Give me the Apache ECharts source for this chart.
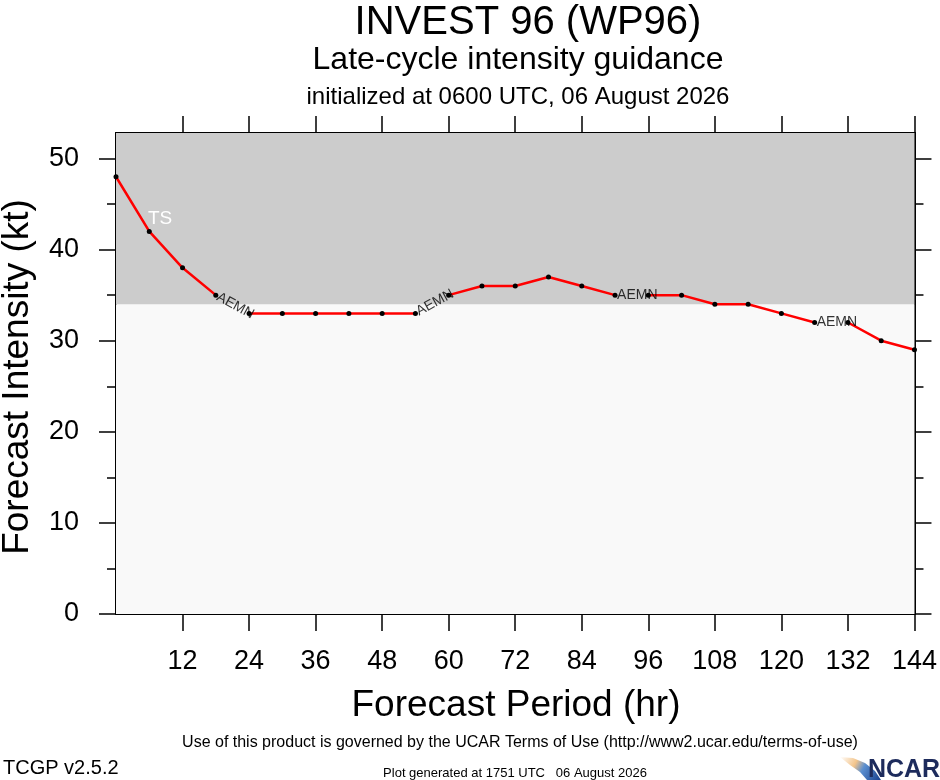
<!DOCTYPE html>
<html>
<head>
<meta charset="utf-8">
<style>
  html, body { margin: 0; padding: 0; background: #fff; }
  #chart { width: 940px; height: 780px; }
</style>
</head>
<body>
<div id="chart"></div>
<script src="https://cdn.jsdelivr.net/npm/echarts@6.0.0/dist/echarts.min.js"></script>
<script>
// forecast hours and AEMN intensity (kt)
var forecastHours = [0, 6, 12, 18, 24, 30, 36, 42, 48, 54, 60, 66, 72, 78, 84, 90, 96, 102, 108, 114, 120, 126, 132, 138, 144];
var aemnIntensity = [48, 42, 38, 35, 33, 33, 33, 33, 33, 33, 35, 36, 36, 37, 36, 35, 35, 35, 34, 34, 33, 32, 32, 30, 29];
var modelName = 'AEMN';
// hours where the model name is written on the line
var labelHours = [18, 54, 90, 126];

var xTicks = [12, 24, 36, 48, 60, 72, 84, 96, 108, 120, 132, 144];
var yMajor = [0, 10, 20, 30, 40, 50];
var yMinor = [5, 15, 25, 35, 45];
var yMax = 52.8;
var tsThreshold = 34;
var bandLabel = 'TS';

var FONT = "'Liberation Sans', Arial, Helvetica, sans-serif";

var chart = echarts.init(document.getElementById('chart'));

// line with breaks where the model name sits
var lineData = [];
forecastHours.forEach(function (h, i) {
    lineData.push([h, aemnIntensity[i]]);
    if (labelHours.indexOf(h) >= 0) lineData.push([h, null]);
});

function xAxisCfg(pos, showLabel) {
    return {
        type: 'value', position: pos, min: 0, max: 144, interval: 12,
        axisLine: { show: true, onZero: false, lineStyle: { color: '#000', width: 2 } },
        axisTick: { show: true, inside: false, length: 17, customValues: xTicks, lineStyle: { color: '#000', width: 1.5 } },
        axisLabel: { show: showLabel, customValues: xTicks, margin: 34, color: '#000', fontSize: 27, fontFamily: FONT },
        splitLine: { show: false }
    };
}
function yAxisCfg(pos, ticks, len, showLabel) {
    return {
        type: 'value', position: pos, min: 0, max: yMax, interval: 10,
        axisLine: { show: true, onZero: false, lineStyle: { color: '#000', width: 2 } },
        axisTick: { show: true, inside: false, length: len, customValues: ticks, lineStyle: { color: '#000', width: 1.5 } },
        axisLabel: { show: showLabel, customValues: ticks, margin: 37, color: '#000', fontSize: 27, fontFamily: FONT },
        splitLine: { show: false }
    };
}

var option = {
    animation: false,
    backgroundColor: '#fff',
    grid: { left: 116, top: 133, right: 22, bottom: 166 },
    xAxis: [xAxisCfg('bottom', true), xAxisCfg('top', false)],
    yAxis: [
        yAxisCfg('left', yMajor, 17, true),
        yAxisCfg('left', yMinor, 9, false),
        yAxisCfg('right', yMajor, 17, false),
        yAxisCfg('right', yMinor, 9, false)
    ],
    graphic: [
        { type: 'text', x: 528, y: 23, style: { text: 'INVEST 96 (WP96)', font: '40px ' + FONT, fill: '#000', align: 'center', verticalAlign: 'middle' } },
        { type: 'text', x: 518, y: 60, style: { text: 'Late-cycle intensity guidance', font: '32px ' + FONT, fill: '#000', align: 'center', verticalAlign: 'middle' } },
        { type: 'text', x: 518, y: 97, style: { text: 'initialized at 0600 UTC, 06 August 2026', font: '24px ' + FONT, fill: '#000', align: 'center', verticalAlign: 'middle' } },
        { type: 'text', x: 18, y: 377, rotation: Math.PI / 2, style: { text: 'Forecast Intensity (kt)', font: '37px ' + FONT, fill: '#000', align: 'center', verticalAlign: 'middle' } },
        { type: 'text', x: 516, y: 706, style: { text: 'Forecast Period (hr)', font: '37px ' + FONT, fill: '#000', align: 'center', verticalAlign: 'middle' } },
        { type: 'text', x: 520, y: 743, style: { text: 'Use of this product is governed by the UCAR Terms of Use (http://www2.ucar.edu/terms-of-use)', font: '16px ' + FONT, fill: '#000', align: 'center', verticalAlign: 'middle' } },
        { type: 'text', x: 3, y: 768, style: { text: 'TCGP v2.5.2', font: '20px ' + FONT, fill: '#000', align: 'left', verticalAlign: 'middle' } },
        { type: 'text', x: 515, y: 773, style: { text: 'Plot generated at 1751 UTC   06 August 2026', font: '13px ' + FONT, fill: '#000', align: 'center', verticalAlign: 'middle' } },
        // NCAR logo
        {
            type: 'polygon',
            shape: { points: [[840, 757], [853, 758], [865, 763], [875, 771], [881, 780], [867, 780], [860, 772], [850, 765]] },
            style: {
                fill: new echarts.graphic.LinearGradient(0, 0, 1, 1, [
                    { offset: 0, color: '#ffffff' },
                    { offset: 0.35, color: '#f3c48a' },
                    { offset: 0.55, color: '#5b8fd0' },
                    { offset: 1, color: '#173f8c' }
                ])
            }
        },
        { type: 'text', x: 904, y: 770, style: { text: 'NCAR', font: 'bold 25px ' + FONT, fill: '#1d2b5c', align: 'center', verticalAlign: 'middle' } }
    ],
    series: [
        {
            name: modelName,
            type: 'line',
            xAxisIndex: 0, yAxisIndex: 0,
            data: lineData,
            connectNulls: false,
            symbol: 'circle',
            symbolSize: 5,
            itemStyle: { color: '#000' },
            lineStyle: { color: '#ff0000', width: 2.5 },
            z: 3,
            markArea: {
                silent: true,
                data: [
                    [{ yAxis: 0, itemStyle: { color: '#f9f9f9' } }, { yAxis: tsThreshold }],
                    [{
                        yAxis: tsThreshold, itemStyle: { color: '#cccccc' },
                        label: {
                            show: true, formatter: bandLabel, position: 'insideTopLeft', distance: 0,
                            offset: [32, 76], color: '#fff', fontSize: 19, fontFamily: FONT
                        }
                    }, { yAxis: yMax }]
                ]
            }
        },
        {
            name: 'labels',
            type: 'scatter',
            xAxisIndex: 0, yAxisIndex: 0,
            symbolSize: 0,
            z: 4,
            data: []
        }
    ]
};
chart.setOption(option);

// put the model name along the line, rotated with the segment it covers
var labelData = labelHours.map(function (h) {
    var i = forecastHours.indexOf(h);
    var p0 = chart.convertToPixel({ xAxisIndex: 0, yAxisIndex: 0 }, [h, aemnIntensity[i]]);
    var p1 = chart.convertToPixel({ xAxisIndex: 0, yAxisIndex: 0 }, [forecastHours[i + 1], aemnIntensity[i + 1]]);
    var angle = -Math.atan2(p1[1] - p0[1], p1[0] - p0[0]) * 180 / Math.PI;
    return {
        value: [h, aemnIntensity[i]],
        label: {
            show: true, formatter: modelName, position: 'inside', rotate: angle,
            align: 'left', verticalAlign: 'middle', padding: [0, 0, 0, 2],
            color: '#000', fontSize: 14, fontFamily: FONT
        }
    };
});
chart.setOption({ series: [{}, { data: labelData }] });
</script>
</body>
</html>
